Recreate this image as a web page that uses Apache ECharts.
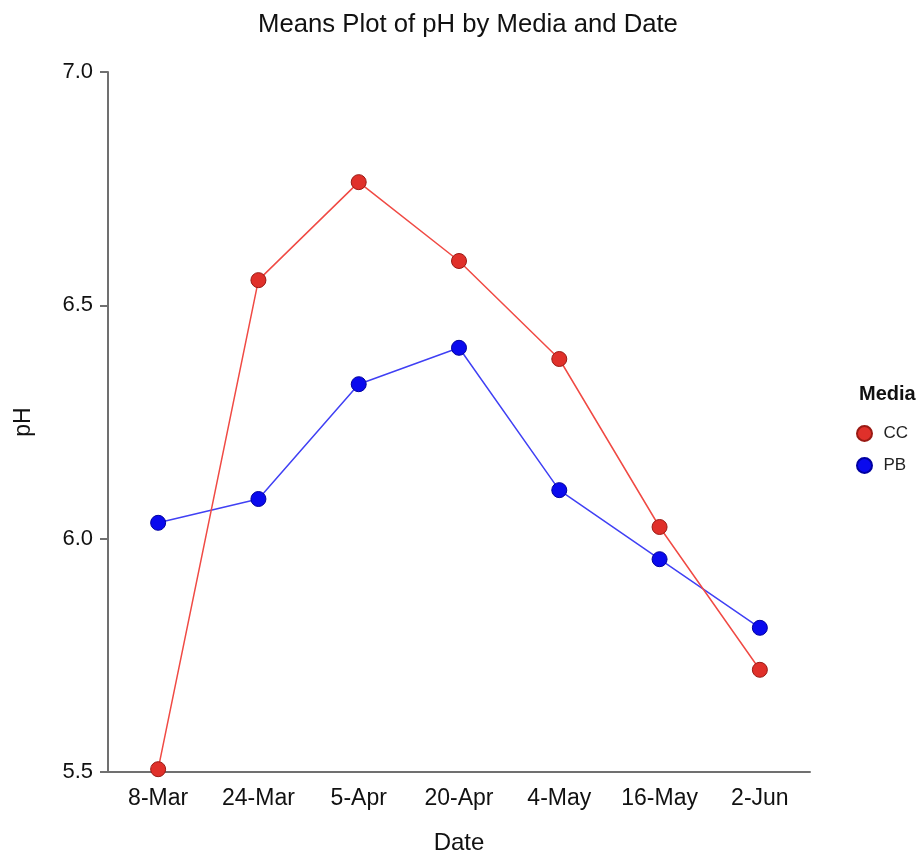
<!DOCTYPE html>
<html>
<head>
<meta charset="utf-8">
<script src="https://cdn.jsdelivr.net/npm/echarts@6/dist/echarts.min.js"></script>
<style>
  html, body { margin: 0; padding: 0; background: #fff; }
  #chart { width: 922px; height: 856px; }
</style>
</head>
<body>
<div id="chart"></div>
<script>
// Sampling dates and mean pH per growth medium
const dates = ['8-Mar', '24-Mar', '5-Apr', '20-Apr', '4-May', '16-May', '2-Jun'];
const ccMeans = [5.506, 6.554, 6.764, 6.595, 6.385, 6.025, 5.719];
const pbMeans = [6.034, 6.085, 6.331, 6.409, 6.104, 5.956, 5.809];
const yTicks = [5.5, 6.0, 6.5, 7.0];

const FONT = 'Liberation Sans, Arial, sans-serif';

const chart = echarts.init(document.getElementById('chart'), null, { renderer: 'canvas' });

chart.setOption({
  animation: false,
  backgroundColor: '#fff',
  textStyle: { fontFamily: FONT },
  title: {
    text: 'Means Plot of pH by Media and Date',
    left: 463,
    textAlign: 'center',
    top: 7,
    textStyle: { fontFamily: FONT, fontSize: 25.7, fontWeight: 'normal', color: '#111' }
  },
  graphic: [{
    type: 'text',
    left: 859,
    top: 384,
    style: { text: 'Media', font: 'bold 20px ' + FONT, fill: '#111' }
  }],
  legend: {
    orient: 'vertical',
    left: 851,
    top: 420,
    itemGap: 15,
    itemWidth: 20,
    itemHeight: 15,
    icon: 'circle',
    textStyle: { fontFamily: FONT, fontSize: 17, color: '#222', padding: [0, 0, 0, 4] },
    data: ['CC', 'PB']
  },
  grid: { left: 108, right: 112, top: 72, bottom: 84, containLabel: false, outerBoundsMode: 'none' },
  xAxis: {
    type: 'category',
    data: dates,
    boundaryGap: true,
    name: 'Date',
    nameLocation: 'middle',
    nameGap: 59,
    nameTextStyle: { fontFamily: FONT, fontSize: 24, color: '#111' },
    axisLine: { lineStyle: { color: '#707070', width: 2 } },
    axisTick: { alignWithLabel: true, length: 8, lineStyle: { color: '#707070', width: 2 } },
    axisLabel: { fontFamily: FONT, fontSize: 23, color: '#111', margin: 15 },
    splitLine: { show: false }
  },
  yAxis: {
    type: 'value',
    min: yTicks[0],
    max: yTicks[yTicks.length - 1],
    interval: 0.5,
    name: 'pH',
    nameLocation: 'middle',
    nameGap: 73,
    nameRotate: 90,
    nameTextStyle: { fontFamily: FONT, fontSize: 23, color: '#111' },
    axisLine: { show: true, lineStyle: { color: '#707070', width: 2 } },
    axisTick: { show: true, length: 8, lineStyle: { color: '#707070', width: 2 } },
    axisLabel: {
      fontFamily: FONT, fontSize: 22, color: '#111', margin: 15,
      formatter: v => v.toFixed(1)
    },
    splitLine: { show: false }
  },
  series: [
    {
      name: 'CC',
      type: 'line',
      data: ccMeans,
      symbol: 'circle',
      symbolSize: 15,
      z: 3,
      lineStyle: { color: '#f04a44', width: 1.5 },
      itemStyle: { color: '#e0302a', borderColor: '#9a1a14', borderWidth: 1 }
    },
    {
      name: 'PB',
      type: 'line',
      data: pbMeans,
      symbol: 'circle',
      symbolSize: 15,
      z: 2,
      lineStyle: { color: '#4040f4', width: 1.5 },
      itemStyle: { color: '#0a0aee', borderColor: '#0000a0', borderWidth: 1 }
    }
  ]
});
</script>
</body>
</html>
